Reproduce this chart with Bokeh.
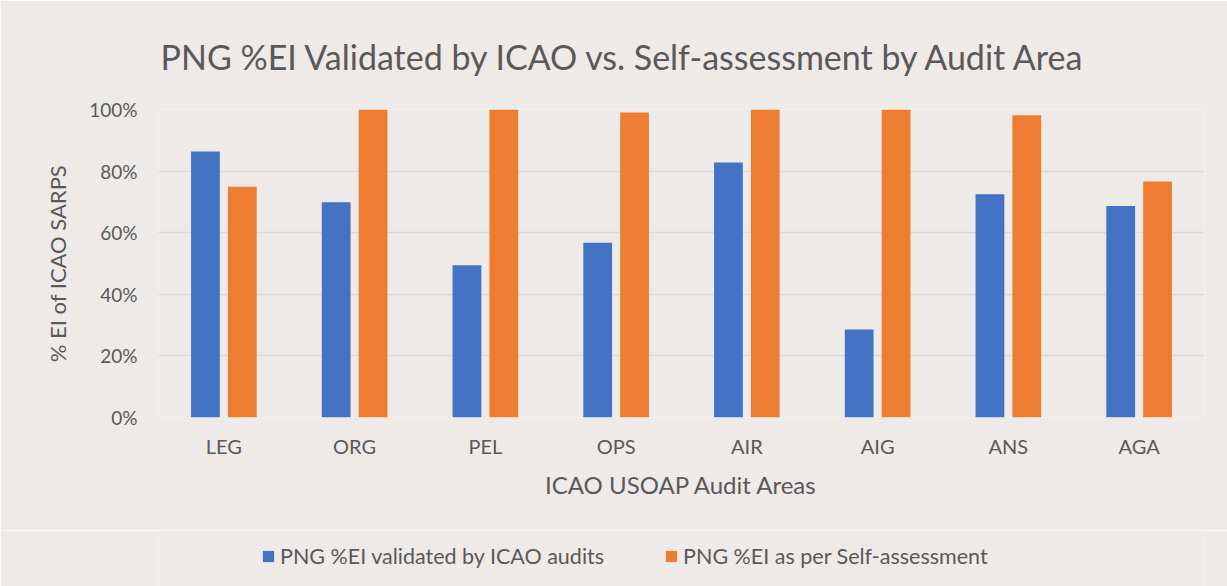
from bokeh.plotting import figure
from bokeh.layouts import column
from bokeh.models import (ColumnDataSource, FactorRange, Range1d, Legend, LegendItem,
                          SingleIntervalTicker, PrintfTickFormatter)
from bokeh.transform import dodge
from bokeh.embed import file_html
from bokeh.resources import INLINE

areas = ["LEG", "ORG", "PEL", "OPS", "AIR", "AIG", "ANS", "AGA"]
icao_validated = [86.4, 69.9, 49.4, 56.7, 82.8, 28.6, 72.5, 68.7]
self_assessment = [74.9, 100, 100, 99.0, 100, 100, 98.1, 76.6]
series_names = ["PNG %EI validated by ICAO audits", "PNG %EI as per Self-assessment"]

TXT = "#595959"
FONT = "Lato"
BG = "#eeeae8"
BLUE = "#4472c4"
ORANGE = "#ed7d31"

src = ColumnDataSource(dict(area=areas, icao=icao_validated, selfa=self_assessment))

# ---------------- main chart ----------------
p = figure(width=1227, height=530, output_backend="svg", toolbar_location=None,
           x_range=FactorRange(*areas, range_padding=0), y_range=Range1d(0, 100),
           min_border_left=158, min_border_right=23, min_border_top=109, min_border_bottom=113,
           title="PNG %EI Validated by ICAO vs. Self-assessment by Audit Area")
p.background_fill_color = BG
p.border_fill_color = BG
p.outline_line_color = None

p.title.text_font = FONT
p.title.text_font_size = "34px"
p.title.text_font_style = "normal"
p.title.text_color = TXT
p.title.align = "left"
p.title.offset = 2
p.title.standoff = 66

p.vbar(x=dodge("area", -0.141, range=p.x_range), top="icao", width=0.22,
       source=src, color=BLUE, line_color=None)
p.vbar(x=dodge("area", 0.141, range=p.x_range), top="selfa", width=0.22,
       source=src, color=ORANGE, line_color=None)

p.xgrid.grid_line_color = None
p.ygrid.grid_line_color = "#d9d9d9"
p.ygrid.grid_line_width = 1.6

p.yaxis.ticker = SingleIntervalTicker(interval=20)
p.yaxis.formatter = PrintfTickFormatter(format="%d%%")
for ax in (p.xaxis[0], p.yaxis[0]):
    ax.axis_line_color = None
    ax.major_tick_line_color = None
    ax.minor_tick_line_color = None
    ax.major_tick_out = 0
    ax.major_tick_in = 0
    ax.major_label_text_color = TXT
    ax.major_label_text_font = FONT
    ax.axis_label_text_color = TXT
    ax.axis_label_text_font = FONT
    ax.axis_label_text_font_style = "normal"

p.yaxis.major_label_text_font_size = "19px"
p.yaxis.major_label_standoff = 17
p.yaxis.axis_label = "% EI of ICAO SARPS"
p.yaxis.axis_label_text_font_size = "22px"
p.yaxis.axis_label_standoff = 15

p.xaxis.major_label_text_font_size = "20px"
p.xaxis.major_label_standoff = 16
p.xaxis.axis_label = "ICAO USOAP Audit Areas"
p.xaxis.axis_label_text_font_size = "24px"
p.xaxis.axis_label_standoff = 9

# ---------------- legend strip ----------------
q = figure(width=1227, height=56, output_backend="svg", toolbar_location=None,
           x_range=FactorRange(*areas, range_padding=0), y_range=Range1d(1000, 1001),
           min_border=0)
q.background_fill_color = BG
q.border_fill_color = BG
q.outline_line_color = None
q.axis.visible = False
q.grid.visible = False
l1 = q.vbar(x="area", top="icao", width=0.22, source=src, color=BLUE, line_color=None)
l2 = q.vbar(x="area", top="selfa", width=0.22, source=src, color=ORANGE, line_color=None)

legend = Legend(items=[LegendItem(label=series_names[0], renderers=[l1]),
                       LegendItem(label=series_names[1], renderers=[l2])],
                location=(103, 17), orientation="horizontal",
                background_fill_alpha=0, border_line_color=None,
                label_text_font=FONT, label_text_font_size="21.5px", label_text_color=TXT,
                glyph_width=14, glyph_height=14, label_standoff=5, spacing=60,
                padding=0, margin=0)
q.add_layout(legend, "center")

layout = column(p, q, spacing=0)

html = file_html(layout, INLINE)
html = html.replace("<body>", '<body style="background:%s">' % BG, 1)
open("out.html", "w").write(html)
